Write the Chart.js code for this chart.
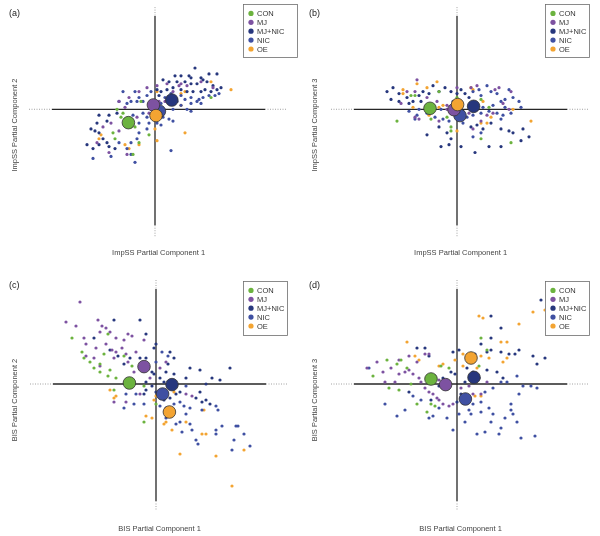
<!DOCTYPE html>
<html>
<head>
<meta charset="utf-8">
<script src="https://cdn.jsdelivr.net/npm/chart.js@4.4.1/dist/chart.umd.min.js"></script>
<style>
	html, body { margin: 0; padding: 0; background: #fff; }
	#wrap { position: relative; width: 600px; height: 536px; }
	#wrap canvas { position: absolute; }
</style>
</head>
<body>
<div id="wrap">
	<canvas id="pa" width="300" height="268" style="left:0;top:0"></canvas>
	<canvas id="pb" width="300" height="268" style="left:300px;top:0"></canvas>
	<canvas id="pc" width="300" height="268" style="left:0;top:268px"></canvas>
	<canvas id="pd" width="300" height="268" style="left:300px;top:268px"></canvas>
</div>
<script>
const groups = ['CON', 'MJ', 'MJ+NIC', 'NIC', 'OE'];
const colours = ['#6cb33f', '#7d52a1', '#27377d', '#3f50a2', '#f3a432'];

// (a) ImpSS component 1 vs 2
const a_CON = [[-1.9,0.0],[-1.7,-0.4],[-1.0,-0.9],[-1.1,-2.3],[-2.0,-1.5],[-2.1,-1.2],[-0.8,-1.7],[-0.7,0.4],[-0.3,-1.3],[2.8,0.6],[-1.2,-0.9],[-1.6,-0.2]];
const a_MJ = [[-1.8,0.4],[-1.5,0.1],[-1.3,0.6],[-0.8,0.9],[-0.4,1.1],[0.1,1.2],[0.6,1.3],[1.2,1.2],[0.9,0.9],[1.3,1.3],[0.5,0.4],[0.2,0.4],[-2.2,-0.7],[-2.6,-0.9],[-2.9,-1.7],[-2.3,-2.2],[-1.4,-2.3],[-0.9,-0.4],[-0.3,-0.2],[-1.8,-1.1],[2.9,1.1],[2.3,1.4],[1.6,1.2],[-0.2,0.3]];
const a_MJNIC = [[2.0,2.1],[2.7,1.8],[3.1,1.8],[1.0,1.7],[1.3,1.7],[1.7,1.7],[1.8,1.6],[2.3,1.6],[2.4,1.5],[0.4,1.5],[0.7,1.4],[1.1,1.4],[1.5,1.4],[1.8,1.3],[2.1,1.3],[2.6,1.4],[2.9,1.2],[3.3,1.1],[3.1,1.0],[2.8,0.9],[2.5,1.0],[2.3,0.9],[1.9,0.9],[1.6,0.9],[1.3,1.0],[0.9,1.1],[0.6,1.0],[0.3,0.9],[0.1,1.0],[0.2,0.7],[-1.9,-0.2],[-2.3,-0.3],[-2.8,-0.3],[-2.4,-0.6],[-2.9,-0.7],[-3.2,-1.0],[-3.0,-1.1],[-2.8,-1.2],[-2.6,-1.5],[-2.4,-1.7],[-3.4,-1.8],[-3.1,-2.0],[-2.8,-1.8],[-2.3,-1.9],[-2.0,-2.0]];
const a_NIC = [[0.5,0.6],[0.8,0.8],[1.3,0.7],[1.5,0.5],[1.8,0.6],[2.2,0.5],[2.4,0.6],[2.7,0.7],[3.0,0.7],[3.2,0.8],[2.1,0.4],[1.8,0.3],[1.3,0.2],[1.1,0.4],[0.6,0.4],[0.3,0.3],[1.6,0.0],[1.8,-0.1],[2.3,0.3],[0.9,0.0],[-1.6,0.9],[-1.0,0.9],[-0.8,0.6],[-0.4,0.7],[-0.2,0.9],[-0.6,0.4],[-0.9,0.4],[-1.2,0.4],[-1.4,0.3],[-1.8,0.4],[-1.8,-1.7],[-2.2,-2.4],[-3.1,-2.5],[-1.0,-2.7],[-1.2,-2.3],[-1.4,-2.0],[-1.2,-1.7],[-0.9,-1.5],[-0.8,-1.2],[-0.4,-1.0],[-0.3,-0.7],[-0.8,-0.7],[-1.1,-0.3],[-0.4,-0.4],[-0.6,-0.2],[0.1,-0.7],[0.3,-0.8],[0.4,-0.4],[0.7,-0.5],[0.9,-0.6],[0.8,-2.1]];
const a_OE = [[-2.7,-1.3],[-2.8,-1.5],[-1.3,-2.0],[-1.5,-1.8],[0.1,-1.6],[1.5,-1.2],[1.5,0.9],[2.8,1.4],[3.8,1.0],[0.0,-1.0],[1.3,0.2],[-0.8,-1.8],[0.1,0.9],[1.3,0.8]];
const a_means = [[-1.33,-0.68],[-0.08,0.22],[0.84,0.47],[0.22,-0.1],[0.05,-0.32]];

// (b) ImpSS component 1 vs 3
const b_CON = [[-3.0,-0.6],[-2.1,0.7],[-2.3,0.7],[-0.3,-0.9],[-0.3,-1.1],[1.2,-1.5],[2.7,-1.7],[1.6,0.1],[-0.5,-0.4],[-0.9,0.9],[-1.3,-0.5],[1.2,0.5],[0.0,0.6]];
const b_MJ = [[-2.0,1.5],[-2.8,0.3],[-2.5,0.9],[-2.1,0.9],[-1.5,0.6],[-1.0,0.4],[-1.9,-0.5],[-2.1,-0.4],[-0.5,0.2],[-0.2,-0.1],[0.1,-0.4],[0.7,1.1],[1.0,1.2],[1.9,1.0],[2.1,1.1],[2.3,0.3],[2.7,0.9],[1.5,-0.3],[1.2,-0.6],[0.8,-1.0],[0.6,-0.2],[-0.9,-0.6],[-1.3,-0.1],[2.6,0.0],[1.8,-0.2],[-0.5,0.0],[0.0,1.1]];
const b_MJNIC = [[-3.5,0.9],[-3.2,1.1],[-2.9,0.8],[-3.3,0.5],[-2.9,0.4],[-2.5,0.6],[-2.4,0.3],[-2.2,0.4],[-1.9,0.7],[-1.8,0.4],[-1.7,0.9],[-1.4,0.8],[-1.2,1.2],[-0.9,0.9],[-0.6,1.1],[-0.3,0.9],[0.0,0.8],[0.2,1.0],[0.4,0.8],[0.6,0.6],[0.7,-0.9],[1.0,-0.8],[1.3,-1.0],[1.7,-0.7],[2.2,-1.0],[2.6,-1.1],[2.8,-1.2],[3.2,-1.6],[3.3,-1.0],[3.6,-1.4],[2.2,-1.9],[1.6,-1.9],[0.9,-2.2],[0.2,-1.9],[-0.4,-1.8],[-0.8,-1.9],[-0.3,-1.5],[-0.5,-1.2],[-0.9,-0.9],[-1.5,-1.3]];
const b_NIC = [[0.8,0.9],[1.1,1.0],[1.2,0.7],[1.5,1.2],[1.7,0.9],[2.0,0.8],[2.2,0.4],[2.4,0.5],[2.6,1.0],[2.8,0.6],[3.1,0.4],[3.2,0.1],[2.7,-0.2],[2.3,-0.3],[2.0,-0.2],[1.6,-0.1],[1.2,-0.2],[0.8,-0.3],[0.5,-0.4],[0.3,-0.7],[-1.1,-0.4],[-1.5,-0.2],[-2.0,-0.3],[-2.4,-0.1],[-0.7,-0.5],[-0.4,-0.6],[-0.2,0.4],[0.3,-0.1],[0.7,0.2],[1.3,0.1],[1.8,0.2],[2.4,0.1],[2.2,-0.5],[0.8,-1.4],[1.2,-1.2],[-0.8,0.0],[-1.3,0.1],[-1.9,0.0],[-2.1,-0.5]];
const b_OE = [[-2.0,1.3],[-1.0,1.4],[-1.5,1.1],[-2.7,1.0],[-2.7,0.8],[0.7,1.1],[0.8,1.0],[1.7,-0.4],[1.5,-0.7],[1.2,-0.7],[3.7,-0.6],[2.8,0.0],[-0.9,0.1],[-0.7,0.2],[-2.2,0.1],[0.0,-1.1],[-1.4,-0.3],[1.3,0.4]];
const b_means = [[-1.35,0.05],[-0.15,-0.02],[0.83,0.15],[0.15,-0.32],[0.03,0.24]];

// (c) BIS component 1 vs 2
const c_CON = [[-4.2,2.3],[-3.6,1.3],[-3.3,1.1],[-2.8,1.0],[-2.6,1.5],[-2.4,2.5],[-2.8,0.6],[-2.4,0.4],[-2.0,0.3],[-2.1,-0.3],[-3.7,1.6],[-3.1,0.8],[-1.2,0.9],[-0.6,-0.1],[-0.6,-1.9],[0.0,-1.0],[-2.3,0.7],[-1.6,1.4]];
const c_MJ = [[-3.8,4.1],[-4.5,3.1],[-4.0,2.9],[-2.9,3.2],[-2.7,2.9],[-2.5,2.8],[-2.8,2.6],[-2.3,2.6],[-2.0,2.3],[-1.6,2.2],[-1.4,2.5],[-1.2,2.4],[-0.6,2.2],[-3.6,2.3],[-3.5,2.0],[-3.0,1.8],[-2.5,2.0],[-2.2,1.7],[-2.0,1.6],[-1.7,1.8],[-1.5,1.5],[-1.0,1.6],[-3.5,1.4],[-3.1,1.3],[-2.8,0.9],[-2.1,1.3],[-1.4,1.1],[-1.1,0.6],[-0.4,0.9],[-0.3,0.3],[1.5,-0.5],[1.8,-0.6],[-2.1,-0.9],[-1.5,-0.9],[-0.8,-0.5],[0.2,0.8],[0.5,1.1]];
const c_MJNIC = [[-2.1,3.2],[-0.8,3.2],[-0.5,2.5],[-3.1,2.3],[-2.3,1.7],[-1.9,1.4],[-1.6,1.0],[-1.3,1.3],[-0.8,1.3],[-0.1,1.8],[0.0,2.0],[-0.5,1.3],[-0.6,0.8],[-0.2,0.6],[-0.1,0.5],[-0.5,0.1],[0.2,0.3],[0.5,0.6],[0.6,1.0],[0.7,1.6],[0.9,1.3],[0.9,0.5],[0.4,0.1],[-0.2,-0.1],[-0.5,-0.3],[-0.6,-0.5],[0.0,-0.4],[0.4,-0.8],[0.7,-0.7],[1.0,-0.5],[1.2,-0.4],[1.5,0.3],[1.7,0.8],[2.2,0.7],[2.8,0.3],[3.2,0.2],[3.7,0.8],[2.5,0.0],[2.2,-0.4],[2.0,-0.7],[2.3,-0.9],[2.5,-0.8],[2.7,-1.0]];
const c_NIC = [[3.0,-1.1],[3.1,-1.3],[2.3,-1.3],[1.7,-1.2],[1.5,-1.5],[1.7,-2.0],[1.8,-2.3],[1.2,-1.9],[1.0,-2.0],[1.3,-2.4],[0.5,-1.7],[0.2,-1.1],[0.5,-1.2],[0.9,-1.0],[1.2,-0.9],[1.4,-1.1],[-1.6,-1.2],[-1.1,-1.0],[-1.5,-0.5],[-1.0,-0.5],[-0.6,-1.0],[3.0,-2.3],[3.3,-2.1],[4.0,-2.1],[4.1,-2.1],[3.9,-2.8],[3.0,-2.5],[3.8,-3.3],[4.7,-3.1],[4.4,-2.5],[2.0,-2.8],[2.1,-3.0],[1.0,0.0],[1.5,-0.1],[0.0,1.1],[0.3,1.6],[0.6,1.4]];
const c_OE = [[-2.3,-0.3],[-2.1,-0.7],[-2.0,-0.6],[-0.5,-1.6],[-0.2,-1.7],[0.5,-1.9],[0.4,-2.0],[0.8,-2.3],[2.3,-2.5],[2.5,-2.5],[1.2,-3.5],[3.0,-3.6],[4.4,-3.3],[3.8,-5.1],[2.4,-1.3],[0.9,-0.4],[-0.1,-0.8],[0.0,-0.6],[1.5,-1.9]];
const c_means = [[-1.33,0.05],[-0.6,0.87],[0.8,-0.03],[0.33,-0.5],[0.67,-1.4]];

// (d) BIS component 1 vs 3
const d_CON = [[-4.2,0.4],[-3.5,1.2],[-3.4,-0.2],[-2.9,-0.3],[-2.5,0.8],[-2.3,0.0],[-2.0,-1.0],[-1.5,-1.4],[-1.3,-1.0],[-1.1,-1.1],[1.2,2.3],[1.5,1.7],[1.1,0.9],[-0.8,0.9],[-0.4,0.8],[-3.0,1.0],[-2.8,1.2]];
const d_MJ = [[-4.5,0.8],[-4.0,1.1],[-3.7,0.6],[-3.3,0.8],[-2.9,0.5],[-2.6,0.6],[-2.4,0.7],[-2.2,0.5],[-1.9,0.3],[-1.8,0.1],[-1.6,-0.2],[-1.4,-0.4],[-1.2,-0.5],[-1.0,-0.7],[-0.9,-0.8],[-0.7,-1.0],[-0.4,-1.1],[-0.2,-1.0],[-2.4,1.4],[-2.0,1.1],[-1.6,1.5],[-1.4,1.5],[-2.9,1.2],[-1.1,0.4],[-0.9,0.2],[-1.3,0.1],[0.6,-0.1],[0.8,-0.5],[1.2,-0.5],[0.2,-0.2],[1.5,0.1],[-3.6,0.1],[-3.1,0.1]];
const d_MJNIC = [[0.2,-0.5],[0.4,0.1],[-0.1,0.5],[-0.3,0.6],[-0.7,0.3],[-0.5,-0.2],[-0.9,-0.1],[-1.3,-0.8],[-2.0,1.8],[-1.6,1.8],[-1.4,1.4],[-0.2,1.6],[0.1,1.7],[0.9,1.5],[1.5,1.6],[1.7,1.7],[2.2,2.8],[1.7,3.4],[2.2,1.6],[2.6,1.5],[2.9,1.5],[3.1,1.7],[3.8,1.4],[4.0,1.0],[4.4,1.3],[4.2,4.2],[1.7,2.3],[1.2,2.0],[0.5,0.8],[0.8,0.6],[1.1,0.3],[1.5,0.7],[2.0,0.6],[2.3,0.3],[0.0,-0.9],[-2.4,-0.4]];
const d_NIC = [[-4.4,0.8],[-3.6,-1.0],[-3.0,-1.6],[-2.6,-1.3],[-2.2,-0.6],[-1.8,-0.8],[-1.4,-1.7],[-1.2,-1.6],[-0.9,-1.2],[-0.5,-1.7],[-0.2,-2.3],[0.1,-1.5],[0.4,-1.9],[1.0,-2.5],[1.4,-2.4],[1.7,-1.9],[2.2,-2.2],[2.1,-2.5],[2.4,-1.7],[2.7,-1.3],[2.8,-1.5],[3.0,-1.9],[3.2,-2.7],[3.9,-2.6],[2.7,-1.0],[3.1,-0.5],[3.3,-0.1],[3.7,-0.1],[4.0,-0.2],[3.0,0.4],[2.5,0.1],[2.2,0.1],[1.8,-0.2],[1.4,-0.4],[1.2,-0.9],[0.8,-1.0],[0.6,-1.3],[0.7,-1.5],[1.2,-1.4],[1.6,-1.2],[1.8,-1.5]];
const d_OE = [[-2.5,2.1],[-2.1,1.4],[-1.9,1.2],[-0.9,0.9],[-0.7,1.0],[-0.1,1.2],[0.3,1.5],[1.0,0.8],[1.1,3.4],[1.3,3.3],[0.8,1.4],[1.2,1.4],[1.6,1.3],[2.2,2.1],[2.5,2.1],[2.3,1.1],[2.5,1.3],[3.1,3.0],[3.8,3.6],[4.4,3.7],[0.9,-0.6],[1.2,-0.6],[0.3,0.9],[-1.5,0.3]];
const d_means = [[-1.3,0.25],[-0.57,-0.03],[0.85,0.33],[0.42,-0.75],[0.7,1.3]];

// drawing order of the big mean markers (lower = on top)
const meanOrder = [5, 2, 4, 3, 1];
const font = '"Liberation Sans", Arial, Helvetica, sans-serif';

const panels = [
	{ id: 'pa', tag: '(a)', xTitle: 'ImpSS Partial Component 1', yTitle: 'ImpSS Partial Component 2',
		points: [a_CON, a_MJ, a_MJNIC, a_NIC, a_OE], means: a_means,
		pad: { left: 29, right: 13, top: 3, bottom: 31 }, yMin: -6.5, yEnd: -5.9, legend: [243, 4, 54, 53] },
	{ id: 'pb', tag: '(b)', xTitle: 'ImpSS Partial Component 1', yTitle: 'ImpSS Partial Component 3',
		points: [b_CON, b_MJ, b_MJNIC, b_NIC, b_OE], means: b_means,
		pad: { left: 31, right: 11, top: 3, bottom: 31 }, yMin: -6.5, yEnd: -5.9, legend: [245, 4, 44, 53] },
	{ id: 'pc', tag: '(c)', xTitle: 'BIS Partial Component 1', yTitle: 'BIS Partial Component 2',
		points: [c_CON, c_MJ, c_MJNIC, c_NIC, c_OE], means: c_means,
		pad: { left: 30, right: 12, top: 12, bottom: 26 }, yMin: -6.3, yEnd: -5.85, legend: [243, 13, 44, 54] },
	{ id: 'pd', tag: '(d)', xTitle: 'BIS Partial Component 1', yTitle: 'BIS Partial Component 3',
		points: [d_CON, d_MJ, d_MJNIC, d_NIC, d_OE], means: d_means,
		pad: { left: 31, right: 11, top: 12, bottom: 26 }, yMin: -6.3, yEnd: -5.85, legend: [245, 13, 44, 54] }
];

function toXY(p) {
	return { x: p[0], y: p[1] };
}

function seg(ctx, x1, y1, x2, y2) {
	ctx.beginPath();
	ctx.moveTo(x1, y1);
	ctx.lineTo(x2, y2);
	ctx.stroke();
}

// cross-hair axes through the origin: solid part plus dotted ends
const crossPlugin = {
	id: 'cross',
	beforeDatasetsDraw(chart, args, opts) {
		let ctx = chart.ctx,
			area = chart.chartArea,
			x = chart.scales.x,
			y = chart.scales.y,
			x0 = x.getPixelForValue(0),
			y0 = y.getPixelForValue(0),
			xs1 = x.getPixelForValue(-5.15),
			xs2 = x.getPixelForValue(5.5),
			ys1 = y.getPixelForValue(4.75),
			ys2 = y.getPixelForValue(opts.yEnd);

		ctx.save();
		ctx.strokeStyle = '#8a8a8a';
		ctx.lineWidth = 0.8;
		ctx.setLineDash([1, 1.5]);
		seg(ctx, area.left, y0, xs1, y0);
		seg(ctx, xs2, y0, area.right, y0);
		seg(ctx, x0, area.top, x0, ys1);
		seg(ctx, x0, ys2, x0, area.bottom);
		ctx.setLineDash([]);
		ctx.strokeStyle = '#262626';
		ctx.lineWidth = 1.3;
		seg(ctx, xs1, y0, xs2, y0);
		seg(ctx, x0, ys1, x0, ys2);
		ctx.restore();
	},
	afterDraw(chart, args, opts) {
		let ctx = chart.ctx,
			area = chart.chartArea,
			x = chart.scales.x,
			y = chart.scales.y,
			lg = opts.legend;

		ctx.save();
		ctx.fillStyle = '#222';
		ctx.font = '9px ' + font;
		ctx.textBaseline = 'middle';
		ctx.textAlign = 'left';
		ctx.fillText(opts.tag, 9, area.top + 6);

		// axis titles
		ctx.fillStyle = '#444';
		ctx.font = '7.5px ' + font;
		ctx.textAlign = 'center';
		ctx.fillText(opts.xTitle, x.getPixelForValue(0.18), y.getPixelForValue(opts.yEnd) + 27.5);
		ctx.save();
		ctx.translate(15, y.getPixelForValue(-0.8));
		ctx.rotate(-Math.PI / 2);
		ctx.fillText(opts.yTitle, 0, 0);
		ctx.restore();

		// legend box
		ctx.fillStyle = '#fff';
		ctx.fillRect(lg[0], lg[1], lg[2], lg[3]);
		ctx.strokeStyle = '#6e6e6e';
		ctx.lineWidth = 0.8;
		ctx.strokeRect(lg[0] + 0.5, lg[1] + 0.5, lg[2], lg[3]);
		ctx.textAlign = 'left';
		groups.forEach(function(g, i) {
			let cy = lg[1] + 9.4 + i * 8.9;
			ctx.fillStyle = colours[i];
			ctx.beginPath();
			ctx.arc(lg[0] + 8, cy, 2.6, 0, Math.PI * 2);
			ctx.fill();
			ctx.fillStyle = '#333';
			ctx.fillText(g, lg[0] + 14, cy + 0.5);
		});
		ctx.restore();
	}
};

panels.forEach(function(p) {
	let datasets = [];

	groups.forEach(function(g, i) {
		datasets.push({
			label: g,
			data: p.points[i].map(toXY),
			backgroundColor: colours[i],
			borderWidth: 0,
			pointRadius: 1.6,
			order: 10 + i
		});
	});

	groups.forEach(function(g, i) {
		datasets.push({
			label: g + ' mean',
			data: [toXY(p.means[i])],
			backgroundColor: colours[i],
			borderColor: '#333',
			borderWidth: 0.8,
			pointRadius: 6.3,
			order: meanOrder[i]
		});
	});

	new Chart(document.getElementById(p.id), {
		type: 'scatter',
		data: { datasets: datasets },
		plugins: [crossPlugin],
		options: {
			responsive: false,
			animation: false,
			devicePixelRatio: 1,
			events: [],
			layout: { padding: p.pad },
			scales: {
				x: { type: 'linear', min: -6.3, max: 6.6, display: false },
				y: { type: 'linear', min: p.yMin, max: 5.2, display: false }
			},
			plugins: {
				legend: { display: false },
				tooltip: { enabled: false },
				cross: { tag: p.tag, xTitle: p.xTitle, yTitle: p.yTitle, yEnd: p.yEnd, legend: p.legend }
			}
		}
	});
});
</script>
</body>
</html>
